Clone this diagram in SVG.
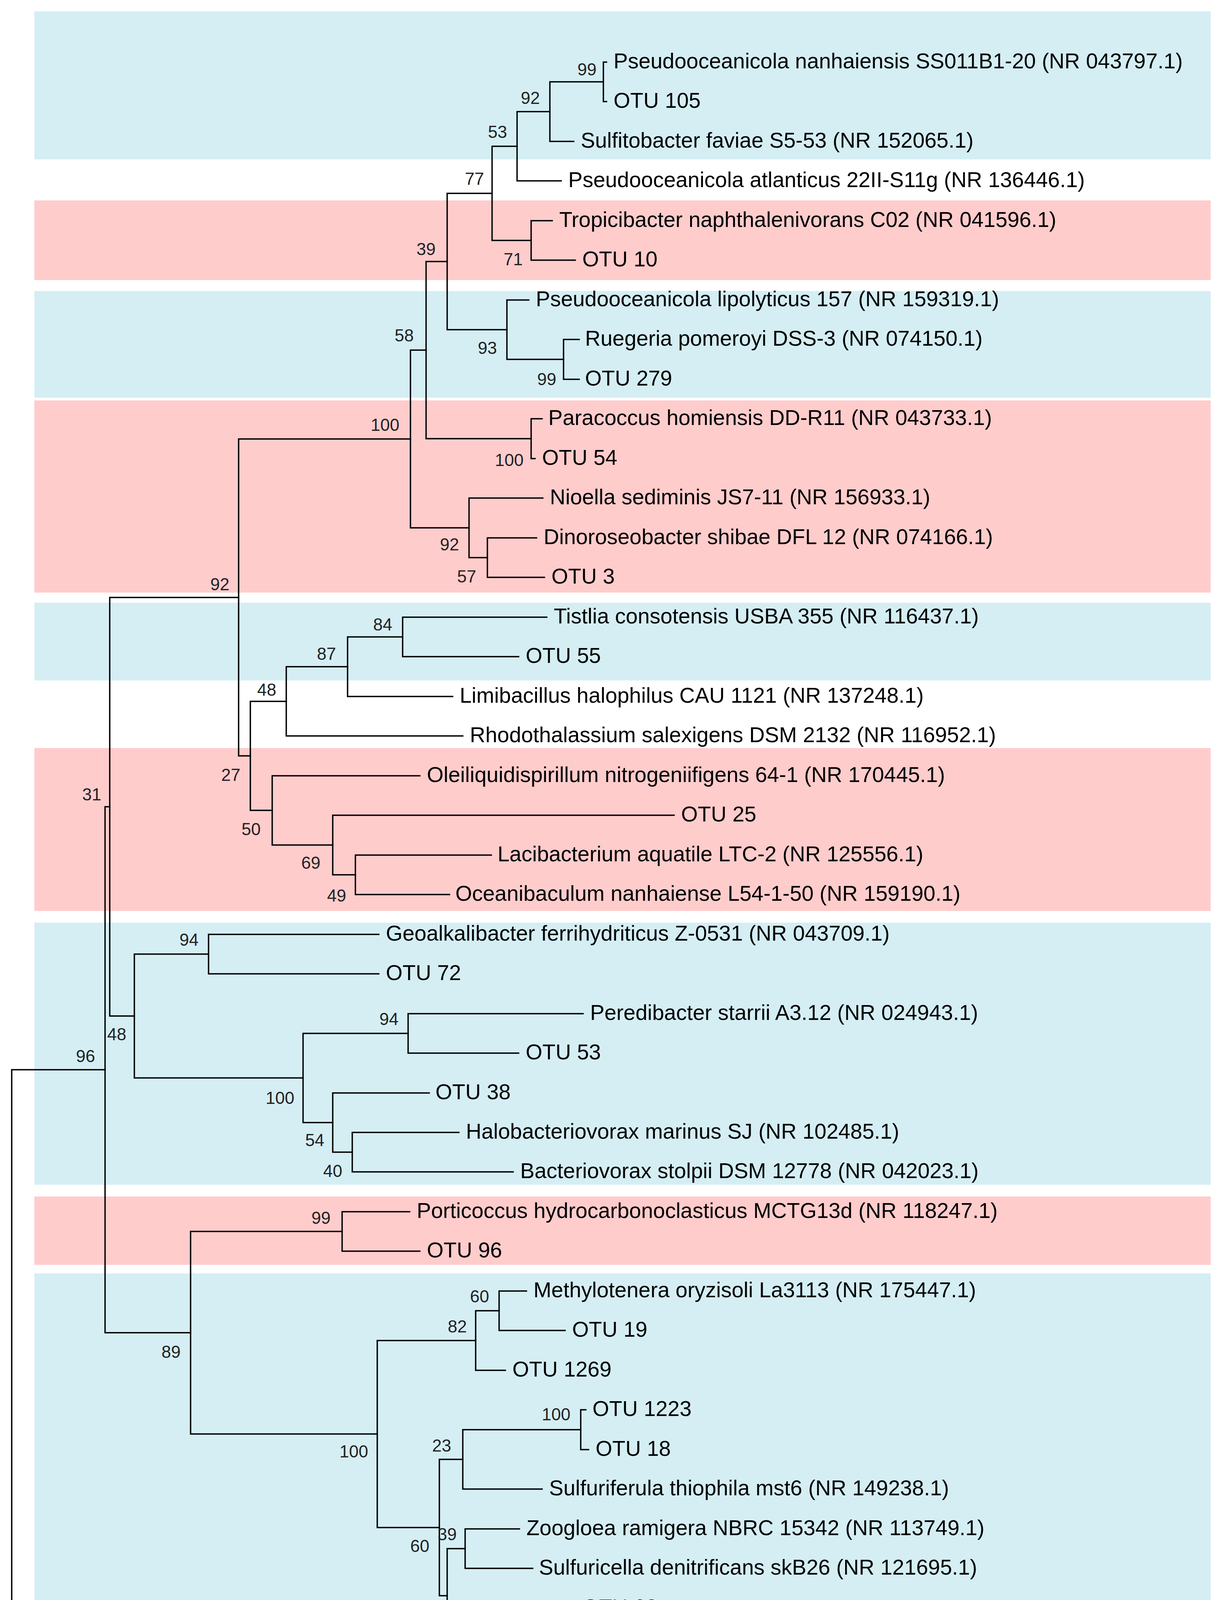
<svg xmlns="http://www.w3.org/2000/svg" width="3106" height="5462" viewBox="0 0 3106 5462">
<style>
.bg{fill:#ffffff}
.blue{fill:#D4EEF4}
.pink{fill:#FFCCCC}
.br{fill:none;stroke:#000;stroke-width:3.5;stroke-linecap:square}
.lf{font-family:"Liberation Sans",Arial,sans-serif;font-size:55px;fill:#000}
.bs{font-family:"Liberation Sans",Arial,sans-serif;font-size:44px;fill:#222;text-anchor:middle}
</style>
<rect class="bg" x="0" y="0" width="3106" height="5462"/>
<g id="bands">
<rect class="blue" x="88" y="29" width="3012" height="379"/>
<rect class="pink" x="88" y="513" width="3012" height="204"/>
<rect class="blue" x="88" y="745" width="3012" height="273"/>
<rect class="pink" x="88" y="1025" width="3012" height="492"/>
<rect class="blue" x="88" y="1543" width="3012" height="199"/>
<rect class="pink" x="88" y="1915" width="3012" height="417"/>
<rect class="blue" x="88" y="2362" width="3012" height="671"/>
<rect class="pink" x="88" y="3063" width="3012" height="175"/>
<rect class="blue" x="88" y="3260" width="3012" height="1187"/>
<rect class="pink" x="88" y="4470" width="3012" height="808"/>
</g>
<g id="connectors">
<path class="br" d="M1553 159 H1545 V260 H1553"/>
<path class="br" d="M1545 209.5 H1408 V362 H1469"/>
<path class="br" d="M1408 285.75 H1324 V463 H1437"/>
<path class="br" d="M1414 565 H1360 V666 H1473"/>
<path class="br" d="M1324 374.4 H1260 V615.5 H1360"/>
<path class="br" d="M1483 869 H1443 V971 H1483"/>
<path class="br" d="M1354 768 H1298 V920 H1443"/>
<path class="br" d="M1260 495 H1145 V844 H1298"/>
<path class="br" d="M1388 1072 H1360 V1174 H1370"/>
<path class="br" d="M1145 669.5 H1091 V1123 H1360"/>
<path class="br" d="M1374 1377 H1248 V1478 H1394"/>
<path class="br" d="M1390 1275 H1201 V1427.5 H1248"/>
<path class="br" d="M1091 896.25 H1051 V1351.25 H1201"/>
<path class="br" d="M1400 1580 H1031 V1681 H1328"/>
<path class="br" d="M1031 1630.5 H890 V1783 H1159"/>
<path class="br" d="M890 1706.75 H733 V1884 H1185"/>
<path class="br" d="M1258 2189 H910 V2290 H1151"/>
<path class="br" d="M1726 2087 H852 V2239.5 H910"/>
<path class="br" d="M1075 1986 H697 V2163.25 H852"/>
<path class="br" d="M733 1795.4 H641 V2074.6 H697"/>
<path class="br" d="M1051 1123.75 H611 V1935 H641"/>
<path class="br" d="M970 2392 H534 V2493 H970"/>
<path class="br" d="M1493 2595 H1045 V2696 H1328"/>
<path class="br" d="M1175 2899 H902 V3000 H1314"/>
<path class="br" d="M1099 2798 H852 V2949.5 H902"/>
<path class="br" d="M1045 2645.5 H776 V2873.75 H852"/>
<path class="br" d="M534 2442.5 H344 V2759.6 H776"/>
<path class="br" d="M611 1529.4 H281 V2601 H344"/>
<path class="br" d="M1049 3102 H876 V3203 H1075"/>
<path class="br" d="M1348 3305 H1278 V3406 H1447"/>
<path class="br" d="M1278 3355.5 H1218 V3508 H1294"/>
<path class="br" d="M1500 3609 H1487 V3711 H1507"/>
<path class="br" d="M1487 3660 H1185 V3812 H1388"/>
<path class="br" d="M1330 3914 H1191 V4015 H1364"/>
<path class="br" d="M1573 4320 H1473 V4421 H1547"/>
<path class="br" d="M1573 4218 H1437 V4370.5 H1473"/>
<path class="br" d="M1473 4117 H1370 V4294.25 H1437"/>
<path class="br" d="M1191 3964.5 H1145 V4205.6 H1370"/>
<path class="br" d="M1185 3736 H1125 V4085 H1145"/>
<path class="br" d="M1218 3431.75 H966 V3910.5 H1125"/>
<path class="br" d="M876 3152.5 H488 V3671 H966"/>
<path class="br" d="M281 2065.2 H269 V3411.8 H488"/>
<path class="br" d="M776 4523 H593 V4624 H816"/>
<path class="br" d="M593 4573.5 H273 V4726 H1264"/>
<path class="br" d="M1726 4827 H1390 V4929 H1639"/>
<path class="br" d="M1569 5132 H1185 V5233 H1533"/>
<path class="br" d="M1537 5030 H1121 V5182.5 H1185"/>
<path class="br" d="M1390 4878 H514 V5106.25 H1121"/>
<path class="br" d="M273 4649.75 H50 V4992 H514"/>
<path class="br" d="M269 2738.5 H30 V4820.9 H50"/>
</g>
<g id="leaves">
<g id="leaf0"><text class="lf" x="1571" y="175">Pseudooceanicola nanhaiensis SS011B1-20 (NR 043797.1)</text></g>
<g id="leaf1"><text class="lf" x="1571" y="276">OTU 105</text></g>
<g id="leaf2"><text class="lf" x="1487" y="378">Sulfitobacter faviae S5-53 (NR 152065.1)</text></g>
<g id="leaf3"><text class="lf" x="1455" y="479">Pseudooceanicola atlanticus 22II-S11g (NR 136446.1)</text></g>
<g id="leaf4"><text class="lf" x="1432" y="581">Tropicibacter naphthalenivorans C02 (NR 041596.1)</text></g>
<g id="leaf5"><text class="lf" x="1491" y="682">OTU 10</text></g>
<g id="leaf6"><text class="lf" x="1372" y="784">Pseudooceanicola lipolyticus 157 (NR 159319.1)</text></g>
<g id="leaf7"><text class="lf" x="1498" y="885">Ruegeria pomeroyi DSS-3 (NR 074150.1)</text></g>
<g id="leaf8"><text class="lf" x="1498" y="987">OTU 279</text></g>
<g id="leaf9"><text class="lf" x="1404" y="1088">Paracoccus homiensis DD-R11 (NR 043733.1)</text></g>
<g id="leaf10"><text class="lf" x="1388" y="1190">OTU 54</text></g>
<g id="leaf11"><text class="lf" x="1408" y="1291">Nioella sediminis JS7-11 (NR 156933.1)</text></g>
<g id="leaf12"><text class="lf" x="1392" y="1393">Dinoroseobacter shibae DFL 12 (NR 074166.1)</text></g>
<g id="leaf13"><text class="lf" x="1412" y="1494">OTU 3</text></g>
<g id="leaf14"><text class="lf" x="1418" y="1596">Tistlia consotensis USBA 355 (NR 116437.1)</text></g>
<g id="leaf15"><text class="lf" x="1346" y="1697">OTU 55</text></g>
<g id="leaf16"><text class="lf" x="1177" y="1799">Limibacillus halophilus CAU 1121 (NR 137248.1)</text></g>
<g id="leaf17"><text class="lf" x="1203" y="1900">Rhodothalassium salexigens DSM 2132 (NR 116952.1)</text></g>
<g id="leaf18"><text class="lf" x="1093" y="2002">Oleiliquidispirillum nitrogeniifigens 64-1 (NR 170445.1)</text></g>
<g id="leaf19"><text class="lf" x="1744" y="2103">OTU 25</text></g>
<g id="leaf20"><text class="lf" x="1274" y="2205">Lacibacterium aquatile LTC-2 (NR 125556.1)</text></g>
<g id="leaf21"><text class="lf" x="1166" y="2306">Oceanibaculum nanhaiense L54-1-50 (NR 159190.1)</text></g>
<g id="leaf22"><text class="lf" x="988" y="2408">Geoalkalibacter ferrihydriticus Z-0531 (NR 043709.1)</text></g>
<g id="leaf23"><text class="lf" x="988" y="2509">OTU 72</text></g>
<g id="leaf24"><text class="lf" x="1511" y="2611">Peredibacter starrii A3.12 (NR 024943.1)</text></g>
<g id="leaf25"><text class="lf" x="1346" y="2712">OTU 53</text></g>
<g id="leaf26"><text class="lf" x="1115" y="2814">OTU 38</text></g>
<g id="leaf27"><text class="lf" x="1193" y="2915">Halobacteriovorax marinus SJ (NR 102485.1)</text></g>
<g id="leaf28"><text class="lf" x="1332" y="3016">Bacteriovorax stolpii DSM 12778 (NR 042023.1)</text></g>
<g id="leaf29"><text class="lf" x="1067" y="3118">Porticoccus hydrocarbonoclasticus MCTG13d (NR 118247.1)</text></g>
<g id="leaf30"><text class="lf" x="1093" y="3219">OTU 96</text></g>
<g id="leaf31"><text class="lf" x="1366" y="3321">Methylotenera oryzisoli La3113 (NR 175447.1)</text></g>
<g id="leaf32"><text class="lf" x="1465" y="3422">OTU 19</text></g>
<g id="leaf33"><text class="lf" x="1312" y="3524">OTU 1269</text></g>
<g id="leaf34"><text class="lf" x="1517" y="3625">OTU 1223</text></g>
<g id="leaf35"><text class="lf" x="1525" y="3727">OTU 18</text></g>
<g id="leaf36"><text class="lf" x="1406" y="3828">Sulfuriferula thiophila mst6 (NR 149238.1)</text></g>
<g id="leaf37"><text class="lf" x="1348" y="3930">Zoogloea ramigera NBRC 15342 (NR 113749.1)</text></g>
<g id="leaf38"><text class="lf" x="1380" y="4031">Sulfuricella denitrificans skB26 (NR 121695.1)</text></g>
<g id="leaf39"><text class="lf" x="1491" y="4133">OTU 68</text></g>
<g id="leaf40"><text class="lf" x="1591" y="4234">Curvibacter delicatus NBRC 14919 (NR 113696.1)</text></g>
<g id="leaf41"><text class="lf" x="1591" y="4336">Limnohabitans australis MWH-BRAZ-DAM2D (NR 125544.1)</text></g>
<g id="leaf42"><text class="lf" x="1565" y="4437">Delftia acidovorans NBRC 14950 (NR 113708.1)</text></g>
<g id="leaf43"><text class="lf" x="794" y="4539">Selenomonas lacticifex DSM 20757 (NR 114617.1)</text></g>
<g id="leaf44"><text class="lf" x="834" y="4640">Propionispira paucivorans DSM 20756 (NR 114618.1)</text></g>
<g id="leaf45"><text class="lf" x="1282" y="4742">OTU 67</text></g>
<g id="leaf46"><text class="lf" x="1744" y="4843">Seonamhaeicola marinus B011 (NR 159139.1)</text></g>
<g id="leaf47"><text class="lf" x="1657" y="4945">OTU 30</text></g>
<g id="leaf48"><text class="lf" x="1553" y="5046">Haliscomenobacter hydrossis DSM 1100 (NR 074420.1)</text></g>
<g id="leaf49"><text class="lf" x="1587" y="5148">Lewinella antarctica NBRC 103142 (NR 114211.1)</text></g>
<g id="leaf50"><text class="lf" x="1549" y="5249">OTU 66</text></g>
</g>
<g id="bootstrap">
<text class="bs" x="1503" y="193">99</text>
<text class="bs" x="1358" y="266">92</text>
<text class="bs" x="1274" y="353">53</text>
<text class="bs" x="1215" y="473">77</text>
<text class="bs" x="1314" y="679">71</text>
<text class="bs" x="1091" y="653">39</text>
<text class="bs" x="1248" y="906">93</text>
<text class="bs" x="1400" y="986">99</text>
<text class="bs" x="1035" y="874">58</text>
<text class="bs" x="1304" y="1193">100</text>
<text class="bs" x="986" y="1103">100</text>
<text class="bs" x="1151" y="1409">92</text>
<text class="bs" x="1195" y="1491">57</text>
<text class="bs" x="563" y="1511">92</text>
<text class="bs" x="980" y="1614">84</text>
<text class="bs" x="836" y="1689">87</text>
<text class="bs" x="683" y="1781">48</text>
<text class="bs" x="591" y="1999">27</text>
<text class="bs" x="643" y="2138">50</text>
<text class="bs" x="796" y="2224">69</text>
<text class="bs" x="862" y="2308">49</text>
<text class="bs" x="235" y="2049">31</text>
<text class="bs" x="484" y="2421">94</text>
<text class="bs" x="996" y="2624">94</text>
<text class="bs" x="299" y="2663">48</text>
<text class="bs" x="219" y="2719">96</text>
<text class="bs" x="717" y="2826">100</text>
<text class="bs" x="806" y="2934">54</text>
<text class="bs" x="852" y="3013">40</text>
<text class="bs" x="822" y="3133">99</text>
<text class="bs" x="1228" y="3334">60</text>
<text class="bs" x="1171" y="3411">82</text>
<text class="bs" x="438" y="3476">89</text>
<text class="bs" x="1424" y="3636">100</text>
<text class="bs" x="1131" y="3716">23</text>
<text class="bs" x="906" y="3731">100</text>
<text class="bs" x="1145" y="3943">39</text>
<text class="bs" x="1075" y="3973">60</text>
<text class="bs" x="1095" y="4144">21</text>
<text class="bs" x="1320" y="4268">98</text>
<text class="bs" x="1390" y="4354">71</text>
<text class="bs" x="1424" y="4433">49</text>
<text class="bs" x="544" y="4551">99</text>
<text class="bs" x="225" y="4631">76</text>
<text class="bs" x="1330" y="4854">100</text>
<text class="bs" x="468" y="5054">99</text>
<text class="bs" x="1075" y="5168">99</text>
<text class="bs" x="1135" y="5246">64</text>
</g>
<g id="scalebar">
<path class="br" d="M239 5385 H454 M239 5365 V5405 M454 5365 V5405"/>
<text class="bs" x="343" y="5449">0.02</text>
</g>
</svg>
